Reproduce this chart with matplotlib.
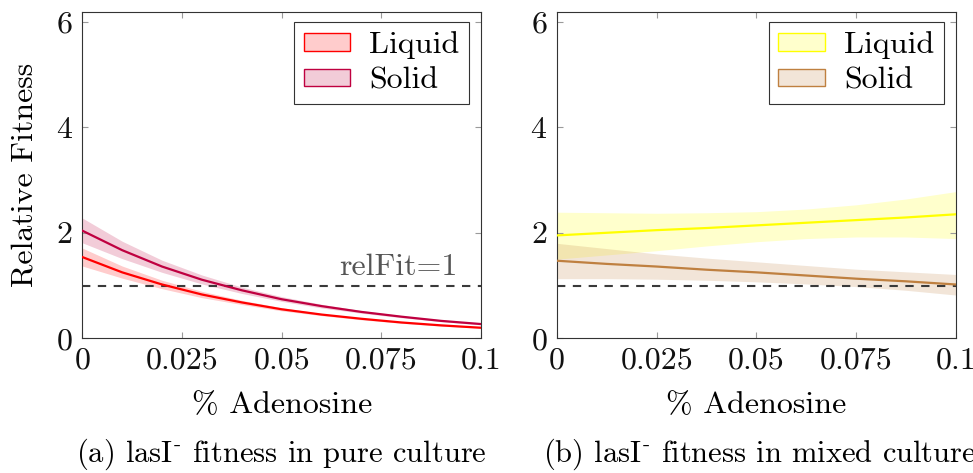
import numpy as np
import matplotlib
matplotlib.use("Agg")
import matplotlib.pyplot as plt
from matplotlib.patches import Patch

plt.rcParams["font.family"] = ["cmr10", "DejaVu Serif"]
plt.rcParams["mathtext.fontset"] = "cm"
plt.rcParams["axes.formatter.use_mathtext"] = True
plt.rcParams["axes.unicode_minus"] = False

FS = 23
CAP_FS = 22

# % adenosine concentrations
x_pure = [0.0, 0.01, 0.02, 0.03, 0.04, 0.05, 0.06, 0.07, 0.08, 0.09, 0.1]
x_mixed = [0.0, 0.0125, 0.025, 0.0375, 0.05, 0.0625, 0.075, 0.0875, 0.1]

# (a) pure culture: fitted relative fitness with confidence band
pure_liquid = [1.54, 1.25, 1.02, 0.83, 0.68, 0.55, 0.45, 0.37, 0.30, 0.245, 0.20]
pure_liquid_hi = [1.71, 1.37, 1.10, 0.89, 0.72, 0.58, 0.47, 0.385, 0.315, 0.255, 0.21]
pure_liquid_lo = [1.37, 1.14, 0.94, 0.77, 0.64, 0.52, 0.43, 0.35, 0.285, 0.23, 0.19]

pure_solid = [2.04, 1.67, 1.36, 1.11, 0.91, 0.74, 0.61, 0.50, 0.41, 0.33, 0.27]
pure_solid_hi = [2.28, 1.84, 1.48, 1.20, 0.97, 0.79, 0.645, 0.525, 0.43, 0.35, 0.285]
pure_solid_lo = [1.81, 1.51, 1.25, 1.03, 0.85, 0.70, 0.575, 0.475, 0.39, 0.315, 0.255]

# (b) mixed culture
mixed_liquid = [1.95, 2.00, 2.05, 2.09, 2.14, 2.19, 2.24, 2.29, 2.35]
mixed_liquid_hi = [2.39, 2.38, 2.37, 2.38, 2.40, 2.45, 2.53, 2.64, 2.78]
mixed_liquid_lo = [1.50, 1.58, 1.66, 1.75, 1.83, 1.89, 1.92, 1.92, 1.89]

mixed_solid = [1.47, 1.41, 1.36, 1.30, 1.25, 1.19, 1.13, 1.08, 1.02]
mixed_solid_hi = [1.80, 1.70, 1.60, 1.52, 1.45, 1.38, 1.31, 1.26, 1.21]
mixed_solid_lo = [1.13, 1.13, 1.12, 1.10, 1.07, 1.03, 0.98, 0.91, 0.82]

xticks = [0, 0.025, 0.05, 0.075, 0.1]
xtick_labels = ["0", "0.025", "0.05", "0.075", "0.1"]
yticks = [0, 2, 4, 6]
ref_level = 1.0

RED = "#FF0000"
PURPLE = "#BF0040"
YELLOW = "#FFFF00"
BROWN = "#BF8040"

fig = plt.figure(figsize=(9.73, 4.73), dpi=100)
ax_a = fig.add_axes([82.3 / 973, 1 - 338.3 / 473, 398.7 / 973, 326.6 / 473])
ax_b = fig.add_axes([557.0 / 973, 1 - 338.3 / 473, 398.7 / 973, 326.6 / 473])


def style(ax):
    ax.set_xlim(0, 0.1)
    ax.set_ylim(0, 6.19)
    ax.set_xticks(xticks)
    ax.set_xticklabels(xtick_labels)
    ax.set_yticks(yticks)
    ax.tick_params(direction="in", length=4.5, width=0.8, color="#9a9a9a",
                   top=True, right=True, labelsize=FS, labelcolor="#111111")
    ax.tick_params(axis="x", pad=6)
    ax.tick_params(axis="y", pad=7)
    for s in ax.spines.values():
        s.set_color("#333333")
        s.set_linewidth(0.8)
    ax.axhline(ref_level, color="#3a3a3a", lw=1.5, ls=(0, (4, 3.6)), zorder=2)
    ax.set_xlabel("% Adenosine", fontsize=FS)
    ax.xaxis.label.set_va("baseline")
    ax.xaxis.set_label_coords(0.5, -0.2287)


def legend(ax, handles):
    hs = [Patch(facecolor=matplotlib.colors.to_rgba(c, 0.2), edgecolor=c,
                linewidth=1.0, label=l) for c, l in handles]
    leg = ax.legend(handles=hs, loc="upper right", bbox_to_anchor=(0.970, 0.969),
                    borderaxespad=0, fontsize=FS, frameon=True, fancybox=False,
                    framealpha=1, edgecolor="#333333", handlelength=1.45,
                    handleheight=0.48, handletextpad=0.6, labelspacing=0.25,
                    borderpad=0.3)
    leg.get_frame().set_linewidth(0.8)


# (a) pure culture
ax_a.fill_between(x_pure, pure_liquid_lo, pure_liquid_hi, color=RED, alpha=0.2, lw=0, zorder=1)
ax_a.plot(x_pure, pure_liquid, color=RED, lw=1.6, zorder=3)
ax_a.fill_between(x_pure, pure_solid_lo, pure_solid_hi, color=PURPLE, alpha=0.2, lw=0, zorder=1)
ax_a.plot(x_pure, pure_solid, color=PURPLE, lw=1.6, zorder=3)
style(ax_a)
legend(ax_a, [(RED, "Liquid"), (PURPLE, "Solid")])
ax_a.text(0.094, 1.2, "relFit=1", fontsize=FS, color="#555555", ha="right", va="baseline")
ax_a.set_ylabel("Relative Fitness", fontsize=FS)
ax_a.yaxis.set_label_coords(-0.111, 0.5)

# (b) mixed culture
ax_b.fill_between(x_mixed, mixed_liquid_lo, mixed_liquid_hi, color=YELLOW, alpha=0.2, lw=0, zorder=1)
ax_b.plot(x_mixed, mixed_liquid, color=YELLOW, lw=1.6, zorder=3)
ax_b.fill_between(x_mixed, mixed_solid_lo, mixed_solid_hi, color=BROWN, alpha=0.2, lw=0, zorder=1)
ax_b.plot(x_mixed, mixed_solid, color=BROWN, lw=1.6, zorder=3)
style(ax_b)
legend(ax_b, [(YELLOW, "Liquid"), (BROWN, "Solid")])

# sub-figure captions
cap_y = 1 - 462.0 / 473
fig.text((82.3 + 398.7 / 2) / 973, cap_y, r"(a) lasI$^{\text{-}}$ fitness in pure culture",
         fontsize=CAP_FS, ha="center", va="baseline")
fig.text((557.0 + 398.7 / 2) / 973 + 0.004, cap_y, r"(b) lasI$^{\text{-}}$ fitness in mixed culture",
         fontsize=CAP_FS, ha="center", va="baseline")

fig.savefig("out.png", dpi=100)
